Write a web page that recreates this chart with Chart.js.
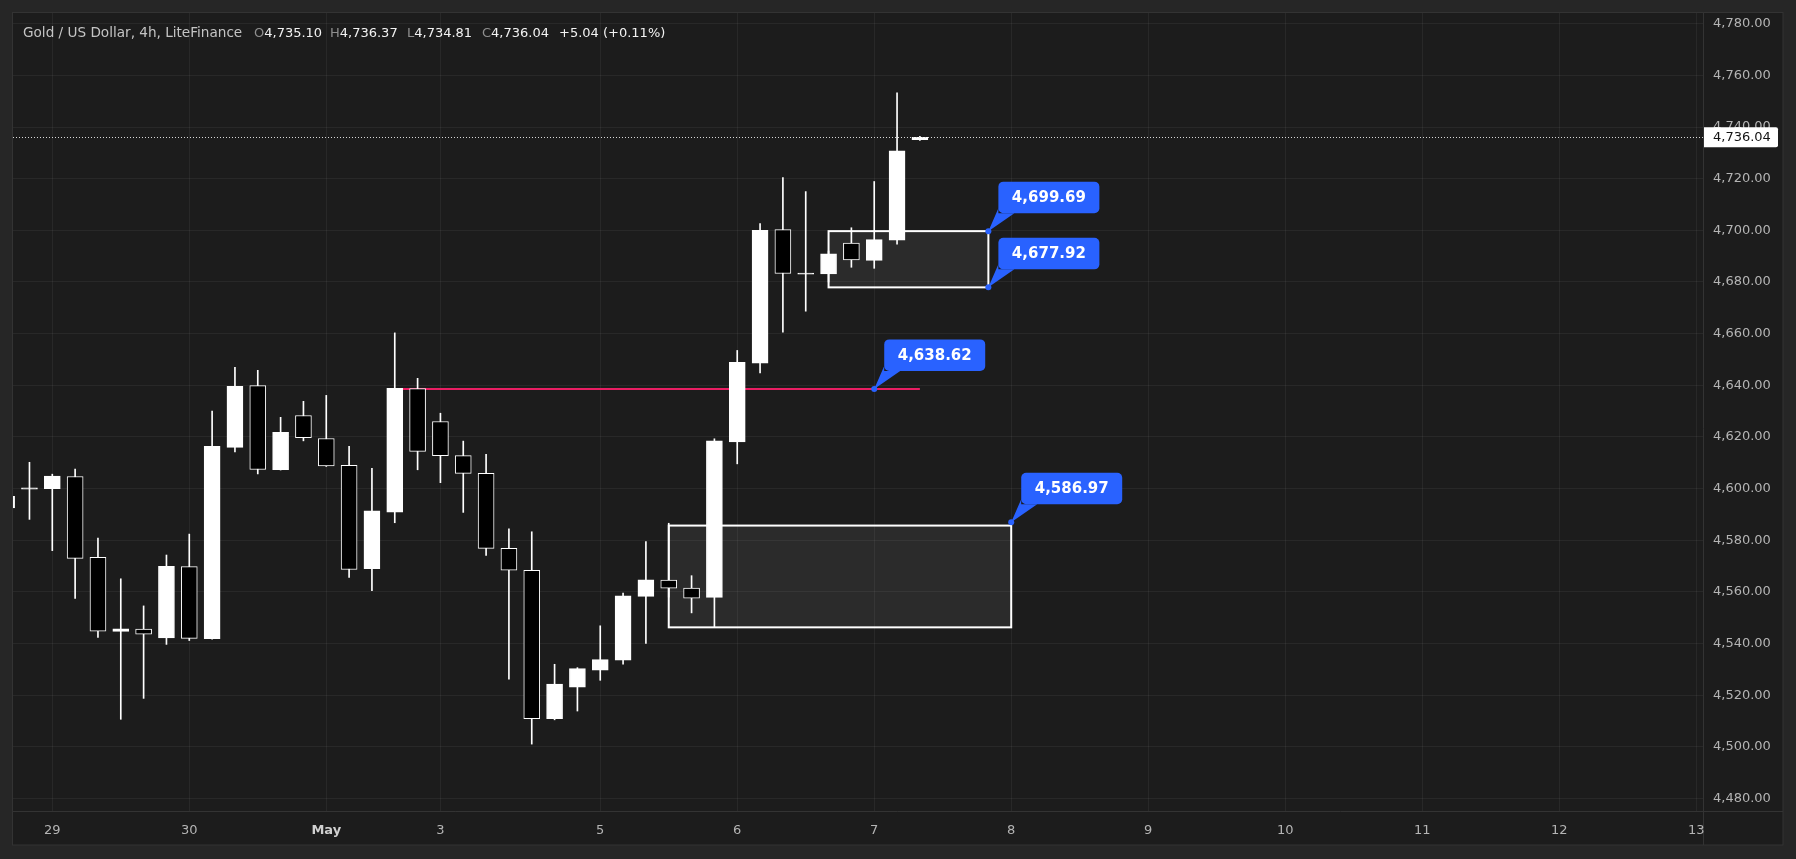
<!DOCTYPE html>
<html>
<head>
<meta charset="utf-8">
<script src="https://cdn.jsdelivr.net/npm/chart.js@4.4.1/dist/chart.umd.min.js"></script>
<style>
html,body{margin:0;padding:0;background:#262626;overflow:hidden}
canvas{display:block}
</style>
</head>
<body>
<canvas id="c" width="1796" height="859"></canvas>
<script>
// ---------- DATA ----------
const firstBar = -2; // bar index of first candle (bar 0 = start of the 29th)
const opens  = [4592.5,4599.8,4600.0,4604.7,4573.4,4544.7,4545.6,4542.2,4569.8,4541.9,4616.0,4639.9,4607.3,4628.3,4619.4,4609.0,4569.0,4590.9,4638.7,4626.0,4612.8,4605.9,4576.9,4568.4,4510.9,4523.1,4529.7,4533.6,4558.3,4564.6,4561.5,4557.9,4618.1,4648.6,4700.3,4683.0,4683.1,4695.1,4688.4,4696.2,4735.10];
const highs  = [4600.0,4610.2,4605.6,4607.6,4580.9,4565.1,4554.6,4574.3,4582.4,4630.0,4647.0,4645.8,4627.6,4633.8,4636.1,4616.4,4607.9,4660.3,4642.7,4629.2,4618.4,4613.3,4584.4,4583.3,4532.0,4530.7,4546.9,4559.6,4579.5,4586.6,4566.3,4619.3,4653.5,4702.6,4720.4,4715.0,4692.0,4701.0,4718.9,4753.2,4736.37];
const lows   = [4588.0,4588.1,4576.0,4557.5,4542.4,4510.7,4518.8,4539.7,4541.2,4541.7,4614.2,4605.7,4607.2,4618.5,4608.6,4565.6,4560.5,4586.8,4607.3,4602.3,4590.8,4574.1,4526.2,4501.1,4510.5,4513.9,4525.8,4532.0,4540.1,4558.0,4551.9,4546.3,4609.6,4644.8,4660.6,4668.7,4680.0,4685.7,4685.3,4694.6,4734.81];
const closes = [4597.0,4600.3,4604.9,4573.0,4544.8,4545.7,4543.7,4569.9,4542.0,4616.4,4639.6,4607.4,4621.8,4619.7,4608.8,4568.7,4591.4,4638.8,4614.4,4612.8,4605.9,4576.9,4568.4,4510.9,4524.3,4530.3,4533.8,4558.5,4564.7,4561.5,4557.6,4618.5,4648.9,4700.0,4683.3,4683.5,4690.9,4688.5,4696.4,4730.8,4736.04];

const xTickIdx    = [0, 6, 12, 17, 24, 30, 36, 42, 48, 54, 60, 66, 72];
const xTickLabels = ['29','30','May','3','5','6','7','8','9','10','11','12','13'];
const yTicks = [4480,4500,4520,4540,4560,4580,4600,4620,4640,4660,4680,4700,4720,4740,4760,4780];

const headerTitle = 'Gold / US Dollar, 4h, LiteFinance';
const ohlcLetters = ['O','H','L','C'];
const ohlcValues  = ['4,735.10','4,736.37','4,734.81','4,736.04'];
const changeText  = '+5.04 (+0.11%)';
const lastPrice   = 4736.04;

const levelLine = {from: 15, to: 38, price: 4638.62};
const zones = [
  {from: 34, to: 41, top: 4699.69, bottom: 4677.92},
  {from: 27, to: 42, top: 4585.7, bottom: 4546.3}
];
const callouts = [
  {bar: 41, price: 4699.69},
  {bar: 41, price: 4677.92},
  {bar: 36, price: 4638.62},
  {bar: 42, price: 4586.97}
];

// ---------- BUILD ----------
const FONT = '"DejaVu Sans", sans-serif';
const fmt = v => v.toLocaleString('en-US', {minimumFractionDigits: 2, maximumFractionDigits: 2});
const bars = opens.map((o, k) => firstBar + k);
const wickData = bars.map((x, k) => ({x, y: [lows[k], highs[k]]}));
const bodyData = bars.map((x, k) => ({x, y: [opens[k], closes[k]]}));
const bodyFill = opens.map((o, k) => closes[k] >= o ? '#ffffff' : '#000000');

const GRID = 'rgba(255,255,255,0.055)';
const SEP = '#333333';

const drawPlugin = {
  id: 'tvdraw',
  beforeDraw(chart) {
    const {ctx, chartArea: a} = chart;
    ctx.save();
    ctx.fillStyle = '#1c1c1c';
    ctx.fillRect(12.5, 12.5, 1783 - 12.5, 845 - 12.5);
    ctx.strokeStyle = SEP; ctx.lineWidth = 1;
    ctx.strokeRect(12.5, 12.5, 1783 - 12.5, 845 - 12.5);
    ctx.beginPath();
    ctx.moveTo(Math.round(a.right) + 0.5, 12.5); ctx.lineTo(Math.round(a.right) + 0.5, 845);
    ctx.moveTo(12.5, Math.round(a.bottom) + 0.5); ctx.lineTo(1783, Math.round(a.bottom) + 0.5);
    ctx.stroke();
    ctx.restore();
  },
  beforeDatasetsDraw(chart) {
    const {ctx, chartArea: a, scales: {x, y}} = chart;
    ctx.save();
    ctx.beginPath(); ctx.rect(a.left, a.top, a.right - a.left, a.bottom - a.top); ctx.clip();
    zones.forEach(z => {
      const x0 = x.getPixelForValue(z.from), x1 = x.getPixelForValue(z.to);
      const y0 = y.getPixelForValue(z.top), y1 = y.getPixelForValue(z.bottom);
      ctx.fillStyle = 'rgba(255,255,255,0.065)';
      ctx.fillRect(x0, y0, x1 - x0, y1 - y0);
      ctx.strokeStyle = '#ffffff'; ctx.lineWidth = 2;
      ctx.strokeRect(x0, y0, x1 - x0, y1 - y0);
    });
    const ly = y.getPixelForValue(levelLine.price);
    ctx.strokeStyle = '#e91e63'; ctx.lineWidth = 2;
    ctx.beginPath();
    ctx.moveTo(x.getPixelForValue(levelLine.from), ly);
    ctx.lineTo(x.getPixelForValue(levelLine.to), ly);
    ctx.stroke();
    ctx.restore();
  },
  afterDatasetsDraw(chart) {
    const {ctx, chartArea: a, scales: {y}} = chart;
    const py = Math.round(y.getPixelForValue(lastPrice)) + 0.5;
    ctx.save();
    ctx.strokeStyle = '#d8d8d8'; ctx.lineWidth = 1;
    ctx.setLineDash([1, 2]);
    ctx.beginPath(); ctx.moveTo(a.left, py); ctx.lineTo(a.right, py); ctx.stroke();
    ctx.restore();
  },
  afterDraw(chart) {
    const {ctx, chartArea: a, scales: {x, y}} = chart;
    ctx.save();
    // callouts
    callouts.forEach(c => {
      const ax = x.getPixelForValue(c.bar), ay = y.getPixelForValue(c.price);
      const w = 101, h = 31.5, left = ax + 10, bottom = ay - 18, top = bottom - h;
      ctx.fillStyle = '#2962ff';
      ctx.beginPath();
      ctx.roundRect(left, top, w, h, 5);
      ctx.fill();
      ctx.beginPath();
      ctx.moveTo(left, bottom - 5); ctx.lineTo(left, bottom); ctx.lineTo(left + 16, bottom);
      ctx.lineTo(ax, ay); ctx.closePath(); ctx.fill();
      ctx.beginPath(); ctx.arc(ax, ay, 3, 0, Math.PI * 2); ctx.fill();
      ctx.fillStyle = '#ffffff';
      ctx.font = 'bold 15px ' + FONT;
      ctx.textAlign = 'center'; ctx.textBaseline = 'middle';
      ctx.fillText(fmt(c.price), left + w / 2, top + h / 2 + 0.5);
    });
    // last price label on axis
    const py = y.getPixelForValue(lastPrice);
    ctx.fillStyle = '#ffffff';
    ctx.beginPath(); ctx.roundRect(a.right + 1, py - 10, 74, 20, [0, 2, 2, 0]); ctx.fill();
    ctx.fillStyle = '#131313';
    ctx.font = '13px ' + FONT; ctx.textAlign = 'left'; ctx.textBaseline = 'middle';
    ctx.fillText(fmt(lastPrice), a.right + 10, py + 0.5);
    // header
    ctx.textBaseline = 'middle'; ctx.textAlign = 'left';
    const hy = 33.5;
    ctx.font = '13.6px ' + FONT;
    ctx.fillStyle = '#c4c4c4';
    ctx.fillText(headerTitle, 23, hy);
    ctx.font = '13px ' + FONT;
    const groupX = [254, 330, 407, 482];
    ohlcLetters.forEach((L, i) => {
      ctx.fillStyle = '#8f8f8f';
      ctx.fillText(L, groupX[i], hy);
      const lw = ctx.measureText(L).width;
      ctx.fillStyle = '#f2f2f2';
      ctx.fillText(ohlcValues[i], groupX[i] + lw, hy);
    });
    ctx.fillStyle = '#f2f2f2';
    ctx.fillText(changeText, 559, hy);
    ctx.restore();
  }
};

new Chart(document.getElementById('c'), {
  type: 'bar',
  data: {
    datasets: [
      {label: 'body', data: bodyData, backgroundColor: bodyFill, borderColor: '#ffffff', borderWidth: 1,
       borderSkipped: false, barThickness: 16, grouped: false, order: 0},
      {label: 'wick', data: wickData, backgroundColor: '#ffffff', borderWidth: 0,
       barThickness: 1, grouped: false, order: 1}
    ]
  },
  options: {
    responsive: false,
    animation: false,
    devicePixelRatio: 1,
    layout: {padding: {left: 13, top: 13, right: 13, bottom: 14}},
    plugins: {legend: {display: false}, tooltip: {enabled: false}},
    scales: {
      x: {
        type: 'linear', position: 'bottom', min: -1.721, max: 72.3, offset: false,
        grid: {color: GRID, drawTicks: false, lineWidth: 1, offset: false},
        border: {display: false},
        afterBuildTicks(s) { s.ticks = xTickIdx.map(v => ({value: v})); },
        afterFit(s) { s.height = 34; s.paddingLeft = 0; s.paddingRight = 0; },
        ticks: {
          autoSkip: false, maxRotation: 0, padding: 12,
          callback: (v) => { const k = xTickIdx.indexOf(v); return k >= 0 ? xTickLabels[k] : ''; },
          color: (c) => (c.tick && c.tick.label === 'May') ? '#d0d0d0' : '#b4b4b4',
          font: (c) => ({family: FONT, size: 13, weight: (c.tick && c.tick.label === 'May') ? 'bold' : 'normal'})
        }
      },
      y: {
        type: 'linear', position: 'right', min: 4475.2, max: 4784.14,
        grid: {color: GRID, drawTicks: false, lineWidth: 1},
        border: {display: false},
        afterBuildTicks(s) { s.ticks = yTicks.map(v => ({value: v})); },
        afterFit(s) { s.width = 80; s.paddingTop = 0; s.paddingBottom = 0; },
        ticks: {
          padding: 10, color: '#b4b4b4', font: {family: FONT, size: 13},
          callback: (v) => fmt(v)
        }
      }
    }
  },
  plugins: [drawPlugin]
});
</script>
</body>
</html>
